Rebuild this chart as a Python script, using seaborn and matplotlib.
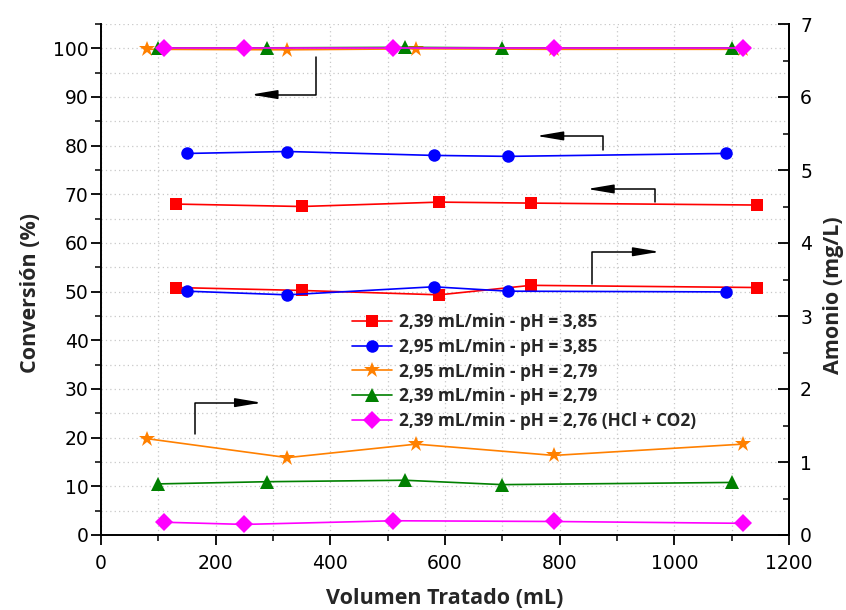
import numpy as np
import pandas as pd
import matplotlib
matplotlib.use("Agg")
import matplotlib.pyplot as plt
import seaborn as sns
from matplotlib.ticker import MultipleLocator

sns.set_theme(style="white")
plt.rcParams['font.family'] = ['DejaVu Sans']
BOLD_FONT = ['Open Sans', 'DejaVu Sans']

# ---------------- data ----------------
series_labels = [
    "2,39 mL/min - pH = 3,85",
    "2,95 mL/min - pH = 3,85",
    "2,95 mL/min - pH = 2,79",
    "2,39 mL/min - pH = 2,79",
    "2,39 mL/min - pH = 2,76 (HCl + CO2)",
]
colors = ["#FF0000", "#0000FF", "#FF8000", "#008000", "#FF00FF"]
markers = ["s", "o", "*", "^", "D"]
msizes = [8, 9, 12, 10, 9]

vol_red = [130, 350, 590, 750, 1145]
vol_blue = [150, 325, 580, 710, 1090]
vol_orange = [80, 325, 550, 790, 1120]
vol_green = [100, 290, 530, 700, 1100]
vol_magenta = [110, 250, 510, 790, 1120]

# Conversión (%) - left axis
conv_red = [68.0, 67.5, 68.4, 68.2, 67.8]
conv_blue = [78.4, 78.8, 78.0, 77.8, 78.4]
conv_orange = [99.8, 99.7, 99.9, 99.8, 99.8]
conv_green = [100.1, 100.1, 100.2, 100.1, 100.1]
conv_magenta = [100.0, 100.0, 100.0, 100.0, 100.0]

# Amonio (mg/L) - right axis
amon_red = [3.39, 3.35, 3.29, 3.42, 3.39]
amon_blue = [3.34, 3.29, 3.40, 3.34, 3.33]
amon_orange = [1.32, 1.06, 1.245, 1.09, 1.245]
amon_green = [0.70, 0.73, 0.75, 0.69, 0.72]
amon_magenta = [0.175, 0.145, 0.195, 0.185, 0.16]

vols = [vol_red, vol_blue, vol_orange, vol_green, vol_magenta]
convs = [conv_red, conv_blue, conv_orange, conv_green, conv_magenta]
amons = [amon_red, amon_blue, amon_orange, amon_green, amon_magenta]

x_ticks = [0, 200, 400, 600, 800, 1000, 1200]
left_ticks = list(range(0, 101, 10))
right_ticks = list(range(0, 8))

# ---------------- figure ----------------
fig = plt.figure(figsize=(8.46, 6.10), dpi=100)
ax = fig.add_axes([101 / 846, 1 - 535 / 610, 688 / 846, 511 / 610])
ax2 = ax.twinx()

for i in range(5):
    df_c = pd.DataFrame({"vol": vols[i], "val": convs[i]})
    df_a = pd.DataFrame({"vol": vols[i], "val": amons[i]})
    sns.lineplot(data=df_c, x="vol", y="val", ax=ax, color=colors[i],
                 marker=markers[i], markersize=msizes[i], markeredgewidth=0,
                 linewidth=1.2, sort=False, label=series_labels[i], legend=False)
    sns.lineplot(data=df_a, x="vol", y="val", ax=ax2, color=colors[i],
                 marker=markers[i], markersize=msizes[i], markeredgewidth=0,
                 linewidth=1.2, sort=False, legend=False)

ax.set_xlim(0, 1200)
ax.set_ylim(0, 105)
ax2.set_ylim(0, 7)
ax.set_xticks(x_ticks)
ax.xaxis.set_minor_locator(MultipleLocator(100))
ax.set_yticks(left_ticks)
ax.yaxis.set_minor_locator(MultipleLocator(5))
ax2.set_yticks(right_ticks)
ax2.yaxis.set_minor_locator(MultipleLocator(0.5))

# grid
ax.set_axisbelow(True)
ax.grid(True, which="both", axis="both", color="#c8c8c8", linestyle=(0, (1, 2.5)), linewidth=0.9)
ax2.grid(False)

for a in (ax, ax2):
    a.spines["top"].set_visible(False)
    for s in ("left", "right", "bottom"):
        a.spines[s].set_linewidth(1.4)
        a.spines[s].set_color("black")
ax2.spines["left"].set_visible(False)
ax2.spines["bottom"].set_visible(False)

ax.tick_params(axis="both", which="major", direction="out", length=7, width=1.3,
               labelsize=13.5, colors="black", pad=2, left=True, bottom=True)
ax.tick_params(axis="both", which="minor", direction="out", length=4, width=1.3,
               left=True, bottom=True)
ax.tick_params(axis="x", pad=7)
ax2.tick_params(axis="y", which="major", direction="in", length=8, width=1.3,
                labelsize=13.5, colors="black", pad=8, right=True)
ax2.tick_params(axis="y", which="minor", direction="in", length=4, width=1.3, right=True)

ax.set_xlabel("Volumen Tratado (mL)", fontsize=15.5, fontweight="bold", va="center",
              family=BOLD_FONT)
ax.xaxis.set_label_coords(0.5, -0.125)
ax.set_ylabel("Conversión (%)", fontsize=15.5, fontweight="bold", va="center",
              ha="center", rotation=90, rotation_mode="default", family=BOLD_FONT)
ax.yaxis.set_label_coords(-0.103, 0.474)
ax2.set_ylabel("Amonio (mg/L)", fontsize=15.5, fontweight="bold", va="center",
               ha="center", rotation=90, rotation_mode="default", family=BOLD_FONT)
ax2.yaxis.set_label_coords(1.064, 0.47)

# arrows indicating axis
arrow_kw = dict(arrowstyle="-|>,head_length=1.6,head_width=0.27", color="black",
                lw=1.1, shrinkA=0, shrinkB=0, mutation_scale=10)
ax.annotate("", xy=(261.6, 90.5), xytext=(374.5, 98.3),
            arrowprops=dict(connectionstyle="angle,angleA=90,angleB=0,rad=0", **arrow_kw))
ax.annotate("", xy=(760, 82.0), xytext=(876, 79.2),
            arrowprops=dict(connectionstyle="angle,angleA=90,angleB=0,rad=0", **arrow_kw))
ax.annotate("", xy=(848, 71.1), xytext=(966, 68.4),
            arrowprops=dict(connectionstyle="angle,angleA=90,angleB=0,rad=0", **arrow_kw))
ax.annotate("", xy=(974, 58.2), xytext=(857, 51.6),
            arrowprops=dict(connectionstyle="angle,angleA=90,angleB=0,rad=0", **arrow_kw))
ax.annotate("", xy=(280, 27.2), xytext=(164, 20.7),
            arrowprops=dict(connectionstyle="angle,angleA=90,angleB=0,rad=0", **arrow_kw))

handles, labs = ax.get_legend_handles_labels()
leg = ax2.legend(handles, labs, loc="center left",
                 bbox_to_anchor=(352 / 846, 1 - 371.5 / 610), bbox_transform=fig.transFigure,
                 frameon=False, borderpad=0, borderaxespad=0, handlelength=2.3,
                 handletextpad=0.4, labelspacing=0.38,
                 prop={"weight": "bold", "size": 12.4, "family": BOLD_FONT})

fig.savefig("out.png", dpi=100)
